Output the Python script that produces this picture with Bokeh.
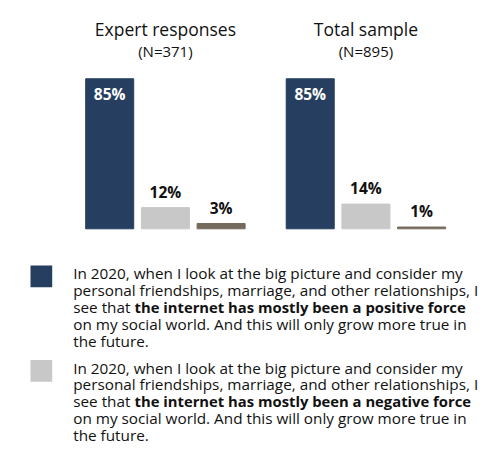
from bokeh.plotting import figure
from bokeh.models import Range1d, Label, BoxAnnotation, ColumnDataSource
from bokeh.core.properties import value
from bokeh.embed import file_html
from bokeh.resources import INLINE

# -----------------------------
# DATA
# -----------------------------
groups = ["Expert responses", "Total sample"]
group_sizes = ["(N=371)", "(N=895)"]
answers = ["Mostly positive", "Mostly negative", "No response"]
expert = [85, 12, 3]
total = [85, 14, 1]
colors = ["#263f60", "#c8c8c8", "#756b5c"]

legend_lines = [
    [["In 2020, when I look at the big picture and consider my"],
     ["personal friendships, marriage, and other relationships, I"],
     ["see that ", "the internet has mostly been a positive force"],
     ["on my social world. And this will only grow more true in"],
     ["the future."]],
    [["In 2020, when I look at the big picture and consider my"],
     ["personal friendships, marriage, and other relationships, I"],
     ["see that ", "the internet has mostly been a negative force"],
     ["on my social world. And this will only grow more true in"],
     ["the future."]],
]

FONT = "Open Sans"
W, H = 490, 446
px_per_pct = 1.765   # vertical scale
pitch = 55.7         # px between bar centres
group_step = 3.6     # bar slots between groups
base_px = 228.3      # bar baseline, px from top
desc = 4.5           # label boxes sit on the descent line

# -----------------------------
# FIGURE
# -----------------------------
x0 = -109.2 / pitch
y_top = base_px / px_per_pct
y_bot = -(H - base_px) / px_per_pct
p = figure(width=W, height=H, x_range=Range1d(x0, x0 + W / pitch),
           y_range=Range1d(y_bot, y_top), x_axis_type=None, y_axis_type=None,
           min_border=0, toolbar_location=None, output_backend="svg",
           outline_line_color=None)
p.grid.visible = False

xs, tops, cols, labels = [], [], [], []
for g, vals in enumerate([expert, total]):
    for i, v in enumerate(vals):
        xs.append(g * group_step + i)
        tops.append(v)
        cols.append(colors[i])
        labels.append(f"{v}%")

src = ColumnDataSource(data=dict(x=xs, top=tops, color=cols, label=labels))
p.vbar(x="x", top="top", bottom=0, width=0.862, color="color", source=src)

# value labels: first bar inside, others above
inside = ColumnDataSource(data=dict(x=xs[0::3], y=tops[0::3], label=labels[0::3]))
outside = ColumnDataSource(data=dict(
    x=[x for k, x in enumerate(xs) if k % 3],
    y=[t for k, t in enumerate(tops) if k % 3],
    label=[l for k, l in enumerate(labels) if k % 3]))
p.text(x="x", y="y", text="label", source=inside, text_align="center",
       text_baseline="alphabetic", y_offset=15, text_color="white",
       text_font=value(FONT), text_font_size="15.5px", text_font_style="bold")
p.text(x="x", y="y", text="label", source=outside, text_align="center",
       text_baseline="alphabetic", y_offset=-16, text_color="#111111",
       text_font=value(FONT), text_font_size="15.5px", text_font_style="bold")

# group titles
for g, (name, n) in enumerate(zip(groups, group_sizes)):
    cx = g * group_step + 1
    p.add_layout(Label(x=cx, y=H - 36 - desc, x_units="data", y_units="screen",
                       text=name, text_align="center", text_font=FONT,
                       text_font_size="17.5px", text_color="#111111"))
    p.add_layout(Label(x=cx, y=H - 55.7 - desc, x_units="data", y_units="screen",
                       text=n, text_align="center", text_font=FONT,
                       text_font_size="15px", text_color="#111111"))

# -----------------------------
# LEGEND
# -----------------------------
line_h = 16.9
block_top = [278.0, 372.5]   # first baseline of each block (px from top)
for b, lines in enumerate(legend_lines):
    sq_top = block_top[b] - 13
    p.add_layout(BoxAnnotation(left=30, right=51.7, top=H - sq_top,
                               bottom=H - sq_top - 21.7, left_units="screen",
                               right_units="screen", top_units="screen",
                               bottom_units="screen", fill_color=colors[b],
                               fill_alpha=1, line_color=None))
    for k, parts in enumerate(lines):
        y = H - (block_top[b] + k * line_h) - desc
        p.add_layout(Label(x=72.7, y=y, x_units="screen", y_units="screen",
                           text=parts[0], text_font=FONT, text_font_size="15.3px",
                           text_color="#111111"))
        if len(parts) > 1:
            p.add_layout(Label(x=134, y=y, x_units="screen", y_units="screen",
                               text=parts[1], text_font=FONT,
                               text_font_size="14.8px", text_font_style="bold",
                               text_color="#111111"))

open("out.html", "w").write(file_html(p, INLINE))
